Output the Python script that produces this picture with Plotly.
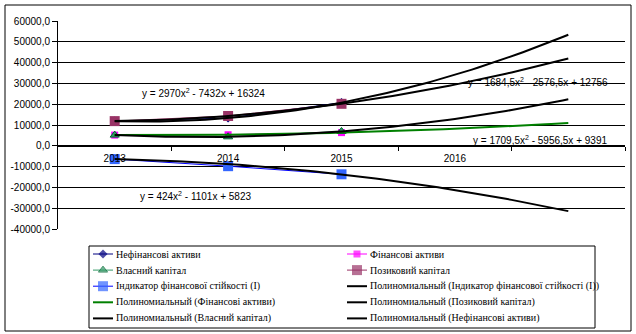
import numpy as np
import plotly.graph_objects as go

# ---- data ----
categories = ["2013", "2014", "2015", "2016", ""]
obs_years = ["2013", "2014", "2015"]

nonfin_assets = [11862, 13340, 20758]      # Нефінансові активи
fin_assets = [5146, 5317, 6336]            # Фінансові активи
own_capital = [5144, 4316, 6907]           # Власний капітал
loan_capital = [11864, 14341, 20187]       # Позиковий капітал
indicator = [-6400, -9800, -13700]         # Індикатор фінансової стійкості (І)

# polynomial trendline coefficients (a, b, c) as shown / read
trend_nonfin = [2970, -7432, 16324]
trend_loan = [1684.5, -2576.5, 12756]
trend_own = [1709.5, -5956.5, 9391]
trend_fin = [424, -1101, 5823]
trend_ind = [-1300, 1550, -6650]

y_ticks = [-40000, -30000, -20000, -10000, 0, 10000, 20000, 30000, 40000, 50000, 60000]
y_tick_labels = [f"{v:.1f}".replace(".", ",") for v in y_ticks]

eq_texts = [
    "y = 2970x<sup>2</sup> - 7432x + 16324",
    "y = 1684,5x<sup>2</sup> - 2576,5x + 12756",
    "y = 1709,5x<sup>2</sup> - 5956,5x + 9391",
    "y = 424x<sup>2</sup> - 1101x + 5823",
]

# ---- positions / layout (pixels) ----
W, H = 636, 334
PL, PR, PT, PB = 58, 625, 21, 229          # plot area edges in pixels
cat_pos = {c: i + 1 for i, c in enumerate(categories)}
x_obs = [cat_pos[y] for y in obs_years]
x_trend = np.linspace(1, len(categories), 81)


def poly(c, x):
    return c[0] * x ** 2 + c[1] * x + c[2]


fig = go.Figure()

series = [
    ("Нефінансові активи", nonfin_assets, "#000080", "diamond", 7, "#000080"),
    ("Фінансові активи", fin_assets, "#FF00FF", "square", 7, "#FF00FF"),
    ("Власний капітал", own_capital, "#339966", "triangle-up", 8, "#339966"),
    ("Позиковий капітал", loan_capital, "#993366", "square", 10, "#993366"),
    ("Індикатор фінансової стійкості (І)", indicator, "#0000FF", "square", 10, "#3366FF"),
]
for name, vals, lc, sym, ms, mc in series:
    fig.add_trace(go.Scatter(
        x=x_obs, y=vals, name=name, mode="lines+markers", showlegend=False,
        line=dict(color=lc, width=1),
        marker=dict(symbol=sym, size=ms, color=mc,
                    line=dict(width=1 if sym == "triangle-up" else 0, color="#006633")),
    ))

trends = [
    ("Полиномиальный (Індикатор фінансової стійкості (І))", trend_ind, "black"),
    ("Полиномиальный (Фінансові активи)", trend_fin, "#008000"),
    ("Полиномиальный (Позиковий капітал)", trend_loan, "black"),
    ("Полиномиальный (Власний капітал)", trend_own, "black"),
    ("Полиномиальный (Нефінансові активи)", trend_nonfin, "black"),
]
for name, coef, col in trends:
    fig.add_trace(go.Scatter(
        x=x_trend, y=poly(coef, x_trend), name=name, mode="lines", showlegend=False,
        line=dict(color=col, width=2),
    ))

# equation labels
eq_pos = [(1.223, 25600), (4.098, 30900), (4.142, 2900), (1.205, -24150)]
for t, (ex, ey) in zip(eq_texts, eq_pos):
    fig.add_annotation(x=ex, y=ey, text=t, showarrow=False, xanchor="left",
                       yanchor="middle", font=dict(family="Liberation Sans", size=10, color="black"))

# ---- legend (two columns, row-wise like the original) drawn on a pixel overlay axis ----
entries = [(s[0], s[2], s[3], s[4], s[5]) for s in series] + \
          [(t[0], t[2], None, 0, t[2]) for t in trends]
col_x = [93, 347]
row_y0, row_dy = 254, 16.1
for i, (name, lc, sym, ms, mc) in enumerate(entries):
    x0 = col_x[i % 2]
    yr = row_y0 + row_dy * (i // 2)
    is_trend = sym is None
    fig.add_trace(go.Scatter(
        x=[x0, x0 + 10, x0 + 20], y=[yr, yr, yr], xaxis="x2", yaxis="y2",
        mode="lines+markers" if not is_trend else "lines", showlegend=False, hoverinfo="skip",
        line=dict(color=lc, width=2 if is_trend else 1),
        marker=dict(symbol=sym or "circle", size=[0, ms, 0], color=mc,
                    line=dict(width=1 if sym == "triangle-up" else 0, color="#006633")),
    ))
    fig.add_annotation(x=x0 + 21, y=yr, xref="x2", yref="y2", text=name, showarrow=False,
                       xanchor="left", yanchor="middle",
                       font=dict(family="Liberation Serif", size=10, color="black"))

# legend box and outer border
fig.add_shape(type="rect", xref="x2", yref="y2", x0=89, x1=595, y0=246, y1=328,
              line=dict(color="black", width=1), fillcolor="rgba(0,0,0,0)")
fig.add_shape(type="rect", xref="x2", yref="y2", x0=5, x1=631, y0=5, y1=331,
              line=dict(color="black", width=1), fillcolor="rgba(0,0,0,0)")

ydom = [(H - PB) / H, (H - PT) / H]
zero_frac = (0 - y_ticks[0]) / (y_ticks[-1] - y_ticks[0])

fig.update_layout(
    width=W, height=H,
    margin=dict(l=0, r=0, t=0, b=0, autoexpand=False),
    paper_bgcolor="white", plot_bgcolor="rgba(0,0,0,0)",
    font=dict(family="Liberation Sans", size=10, color="black"),
    showlegend=False,
    xaxis=dict(
        domain=[PL / W, PR / W],
        range=[0.5, len(categories) + 0.5],
        tickmode="array", tickvals=[cat_pos[c] for c in categories[:4]],
        ticktext=categories[:4], ticks="", showgrid=False,
        anchor="free", position=ydom[0] + zero_frac * (ydom[1] - ydom[0]), ticklabelstandoff=3,
        showline=True, linecolor="black", linewidth=1, zeroline=False,
        tickfont=dict(family="Liberation Sans", size=10),
        minor=dict(tickmode="array", tickvals=[i + 1.5 for i in range(len(categories))],
                   ticks="outside", ticklen=4, tickcolor="black", showgrid=False),
    ),
    yaxis=dict(
        domain=ydom, anchor="x",
        range=[y_ticks[0], y_ticks[-1]],
        tickmode="array", tickvals=y_ticks, ticktext=y_tick_labels,
        ticks="outside", ticklen=5, tickcolor="black",
        showgrid=False, zeroline=False,
        showline=True, linecolor="black", linewidth=1,
        tickfont=dict(family="Liberation Sans", size=10),
        minor=dict(tickmode="array", tickvals=y_ticks[1:-1], ticks="",
                   showgrid=True, gridcolor="black", gridwidth=1),
    ),
    xaxis2=dict(domain=[0, 1], range=[0, W], visible=False, anchor="y2", fixedrange=True),
    yaxis2=dict(domain=[0, 1], range=[H, 0], visible=False, anchor="x2", fixedrange=True),
)

fig.write_html("out.html")
